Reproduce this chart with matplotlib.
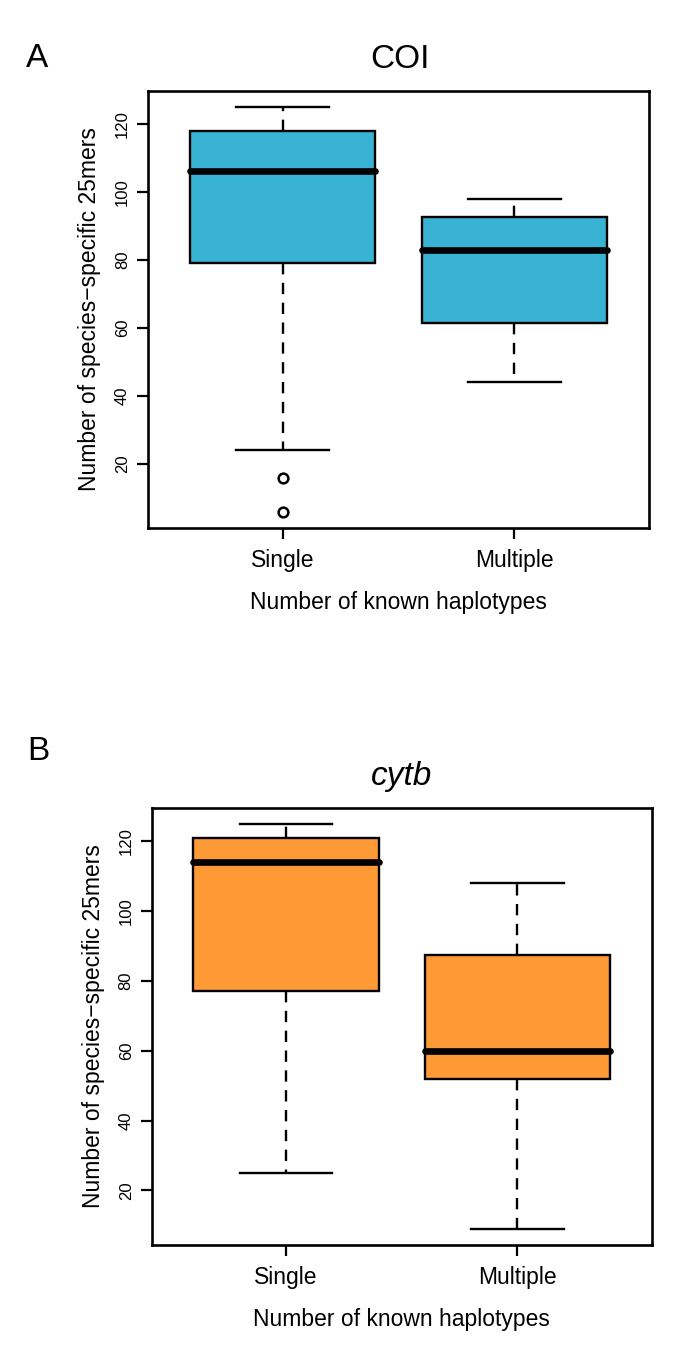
import matplotlib
matplotlib.use("Agg")
import matplotlib.pyplot as plt

plt.rcParams['font.family'] = ['Liberation Sans', 'DejaVu Sans']

# ---- data ----
categories = ["Single", "Multiple"]
# stats order: whislo, q1, med, q3, whishi
coi_single = [24, 79, 106, 118, 125]
coi_single_fliers = [16, 6]
coi_multiple = [44, 61.5, 83, 92.5, 98]
coi_multiple_fliers = []
cytb_single = [25, 77, 114, 121, 125]
cytb_single_fliers = []
cytb_multiple = [9, 52, 60, 87.5, 108]
cytb_multiple_fliers = []
yticks = [20, 40, 60, 80, 100, 120]

COL_COI = "#38B3D3"
COL_CYTB = "#FE9A36"

W, H = 685, 1359
fig = plt.figure(figsize=(W / 100, H / 100), dpi=100)


def mkstats(vals, fliers, label):
    return dict(whislo=vals[0], q1=vals[1], med=vals[2], q3=vals[3],
                whishi=vals[4], fliers=fliers, label=label)


def panel(rect, series, fliers, color):
    ax = fig.add_axes(rect)
    stats = [mkstats(v, f, c) for v, f, c in zip(series, fliers, categories)]
    ax.bxp(stats, positions=[1, 2], widths=0.8, capwidths=0.4,
           patch_artist=True, showfliers=True,
           boxprops=dict(facecolor=color, edgecolor='black', linewidth=1.7),
           medianprops=dict(color='black', linewidth=4.8, solid_capstyle='round'),
           whiskerprops=dict(color='black', linewidth=1.7, linestyle=(0, (4.8, 3.6))),
           capprops=dict(color='black', linewidth=1.7),
           flierprops=dict(marker='o', markersize=7, markerfacecolor='none',
                           markeredgecolor='black', markeredgewidth=1.8))
    allv = [x for v in series for x in v] + [x for f in fliers for x in f]
    lo, hi = min(allv), max(allv)
    pad = 0.04 * (hi - lo)
    ax.set_ylim(lo - pad, hi + pad)
    ax.set_xlim(0.42, 2.58)
    ax.set_yticks(yticks)
    ax.set_yticklabels([str(t) for t in yticks], rotation=90, va='center', fontsize=12)
    ax.set_xticks([1, 2])
    ax.set_xticklabels(categories, fontsize=16.5)
    ax.tick_params(axis='y', length=8, width=1.6, pad=5)
    ax.tick_params(axis='x', length=8, width=1.6, pad=7)
    for s in ax.spines.values():
        s.set_linewidth(1.9)
    ax.set_ylabel("Number of species\u2212specific 25mers", fontsize=16.5, labelpad=10)
    ax.set_xlabel("Number of known haplotypes", fontsize=16.5, labelpad=14)
    return ax


axA = panel([148 / W, 1 - 527.7 / H, 501 / W, 437 / H],
            [coi_single, coi_multiple], [coi_single_fliers, coi_multiple_fliers], COL_COI)
axB = panel([151.7 / W, 1 - 1245 / H, 500 / W, 437.3 / H],
            [cytb_single, cytb_multiple], [cytb_single_fliers, cytb_multiple_fliers], COL_CYTB)

fig.text(400 / W, 1 - 68 / H, "COI", fontsize=24, ha='center', va='baseline')
fig.text(401.7 / W, 1 - 785 / H, "cytb", fontsize=24, ha='center', va='baseline', style='italic')
fig.text(26 / W, 1 - 66.7 / H, "A", fontsize=24, ha='left', va='baseline')
fig.text(27 / W, 1 - 760 / H, "B", fontsize=24, ha='left', va='baseline')

fig.savefig("out.png", dpi=100)
